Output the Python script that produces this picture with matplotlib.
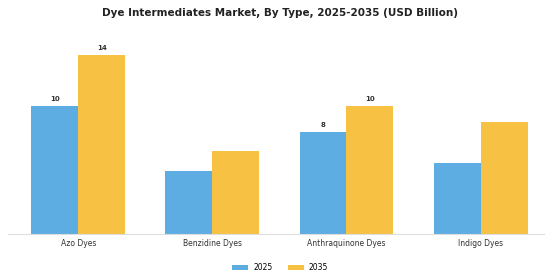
import numpy as np
import matplotlib
matplotlib.use("Agg")
from matplotlib import pyplot as plt

# datos
categorias = ["Azo Dyes", "Benzidine Dyes", "Anthraquinone Dyes", "Indigo Dyes"]
valores_2025 = [10, 4.96, 7.95, 5.58]
valores_2035 = [14, 6.49, 10, 8.75]
etiquetas_2025 = ["10", "", "8", ""]
etiquetas_2035 = ["14", "", "10", ""]
series = ["2025", "2035"]

azul = "#5DADE2"
amarillo = "#F7C244"

fig = plt.figure(figsize=(5.6, 2.8), dpi=100)
ax = fig.add_axes([0.014, 0.163, 0.958, 0.6875])

x = np.arange(len(categorias))
ancho = 0.35
b1 = ax.bar(x - ancho / 2, valores_2025, ancho, color=azul, label=series[0])
b2 = ax.bar(x + ancho / 2, valores_2035, ancho, color=amarillo, label=series[1])

# etiquetas de valor solo en algunas barras
for barras, etiquetas in [(b1, etiquetas_2025), (b2, etiquetas_2035)]:
    for barra, txt in zip(barras, etiquetas):
        if txt:
            ax.text(barra.get_x() + barra.get_width() / 2, barra.get_height() + 0.3, txt,
                    ha="center", va="bottom", fontsize=5, fontweight="bold", color="#333333")

ax.set_xlim(-0.525, 3.475)
ax.set_ylim(0, 15)
ax.set_xticks(x)
ax.set_xticklabels(categorias, fontsize=5.5, color="#333333")
ax.tick_params(axis="x", length=0, pad=3)
ax.set_yticks([])
for lado in ["top", "right", "left"]:
    ax.spines[lado].set_visible(False)
ax.spines["bottom"].set_color("#dddddd")
ax.spines["bottom"].set_linewidth(0.8)

fig.text(0.5, 0.955, "Dye Intermediates Market, By Type, 2025-2035 (USD Billion)",
         ha="center", va="center", fontsize=7.5, fontweight="bold", color="#222222")

fig.legend(loc="center", bbox_to_anchor=(0.5, 0.043), ncol=2, frameon=False,
           fontsize=5.5, handlelength=2.2, handleheight=0.6, columnspacing=2.0,
           handletextpad=0.6)

fig.savefig("out.png", dpi=100)
